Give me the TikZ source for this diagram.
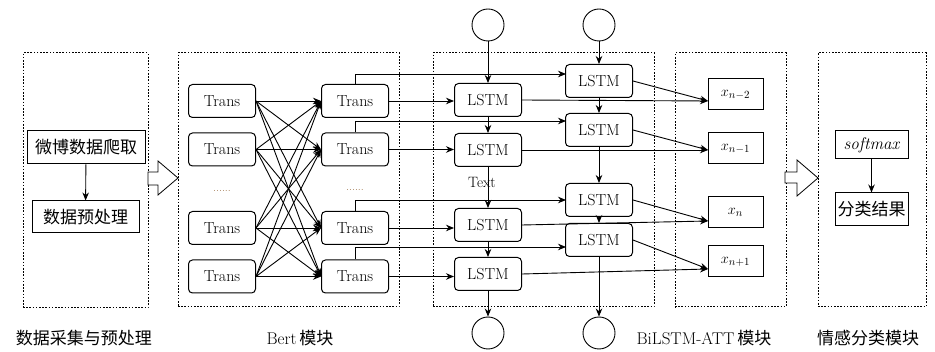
\documentclass[tikz,border=0pt]{standalone}
\usepackage{fontspec}
\newfontfamily\cjk{Noto Sans CJK SC}
\usetikzlibrary{arrows.meta,calc}
\begin{document}
\begin{tikzpicture}[x=1pt,y=-1pt,
  >={Stealth[length=8pt,width=6.5pt]},
  every node/.style={inner sep=0pt},
  dotbox/.style={draw,line width=1pt,dash pattern=on 1.6pt off 1.6pt},
  rbox/.style={draw,line width=1pt,rounded corners=4pt,minimum width=67pt,minimum height=33pt,font=\fontsize{16}{18}\selectfont},
  abox/.style={draw,line width=1pt,minimum width=55pt,minimum height=31pt,font=\fontsize{15}{17}\selectfont},
  cbox/.style={draw,line width=1pt,font=\cjk\fontsize{17}{20}\selectfont,inner sep=1pt},
  circ/.style={draw,line width=0.9pt,circle,minimum size=32pt},
  conn/.style={line width=0.9pt},
  blk/.style={draw,line width=0.8pt,fill=white},
  lab/.style={font=\cjk\fontsize{17}{20}\selectfont},
  dots/.style={text=brown!60!gray,font=\fontsize{11}{12}\selectfont}
]
\useasboundingbox (0,0) rectangle (935,352);
% dotted module boxes
\node[dotbox,minimum width=125pt,minimum height=255pt] (m1) at (85.5,180.5) {};
\node[dotbox,minimum width=221pt,minimum height=254pt] (m2) at (288.5,180) {};
\node[dotbox,minimum width=221pt,minimum height=254pt] (m3) at (543.5,180) {};
\node[dotbox,minimum width=111pt,minimum height=254pt] (m4) at (730.5,180) {};
\node[dotbox,minimum width=108pt,minimum height=254pt] (m5) at (872,180) {};

% module 1
\node[cbox,minimum width=118pt,minimum height=33pt] (crawl) at (86,147.5) {微博数据爬取};
\node[cbox,minimum width=107pt,minimum height=32pt] (pre) at (85.5,217) {数据预处理};
\draw[conn,->] (crawl) -- (pre);

% block arrows
\draw[blk] (148,172) -- (158,172) -- (158,161) -- (178,178) -- (158,195) -- (158,185) -- (148,185) -- cycle;
\draw[blk] (785,172) -- (797,172) -- (797,160) -- (818,178) -- (797,196) -- (797,183) -- (785,183) -- cycle;

% Bert
\node[rbox] (t1) at (222,101) {Trans};
\node[rbox] (t2) at (222,149.5) {Trans};
\node[rbox] (t3) at (222,228) {Trans};
\node[rbox] (t4) at (222,276.5) {Trans};
\node[rbox] (u1) at (355,101) {Trans};
\node[rbox] (u2) at (355,149.5) {Trans};
\node[rbox] (u3) at (355,228) {Trans};
\node[rbox] (u4) at (355,276.5) {Trans};
\node[dots] (d1) at (222,191) {......};
\node[dots] (d2) at (355,190) {......};
\foreach \i in {1,2,3,4}{
  \foreach \j in {1,2,3,4}{
    \draw[conn,->] (t\i.east) -- (u\j.west);
  }
}

% BiLSTM
\node[rbox] (l1) at (488,100) {LSTM};
\node[rbox] (l2) at (488,150) {LSTM};
\node[rbox] (l3) at (488,225) {LSTM};
\node[rbox] (l4) at (488,274) {LSTM};
\node[rbox] (r1) at (599,81) {LSTM};
\node[rbox] (r2) at (599,130) {LSTM};
\node[rbox] (r3) at (599,200) {LSTM};
\node[rbox] (r4) at (599,240) {LSTM};
\node[circ] (lt) at (488,25) {};
\node[circ] (lb) at (488,333) {};
\node[circ] (rt) at (599,25) {};
\node[circ] (rb) at (599,333) {};
\draw[conn,->] (lt) -- (l1);
\draw[conn,->] (l1) -- (l2);
\draw[conn,->] (l2) -- (l3);
\draw[conn,->] (l3) -- (l4);
\draw[conn,->] (l4) -- (lb);
\draw[conn,->] (rt) -- (r1);
\draw[conn,->] (r1) -- (r2);
\draw[conn,->] (r2) -- (r3);
\draw[conn,->] (r3) -- (r4);
\draw[conn,->] (r4) -- (rb);
\node[font=\fontsize{15}{17}\selectfont] (txt) at (482,182) {Text};

% Trans -> LSTM
\foreach \i in {1,2,3,4}{
  \draw[conn,->] (u\i.east) -- (l\i.west |- u\i.east);
}
\coordinate (c1) at (566,74);
\coordinate (c2) at (566,121);
\coordinate (c3) at (566,200);
\coordinate (c4) at (566,247);
\foreach \i in {1,2,3,4}{
  \draw[conn,->] (u\i.north) |- (c\i);
}

% ATT
\node[abox] (a1) at (735.5,94.5) {$x_{n-2}$};
\node[abox] (a2) at (735.5,148.5) {$x_{n-1}$};
\node[abox] (a3) at (735.5,212.5) {$x_{n}$};
\node[abox] (a4) at (735.5,261.5) {$x_{n+1}$};
\coordinate (p1) at (708,101);
\coordinate (p2) at (708,150);
\coordinate (p3) at (708,221);
\coordinate (p4) at (708,269);
\foreach \i in {1,2,3,4}{
  \draw[conn,->] (l\i.east) -- (p\i);
  \draw[conn,->] (r\i.east) -- (p\i);
}

% module 5
\node[draw,line width=1pt,minimum width=73pt,minimum height=28pt,font=\fontsize{17}{19}\selectfont\itshape] (sm) at (871.5,145) {softmax};
\node[cbox,minimum width=73pt,minimum height=33pt] (res) at (871.5,209.5) {分类结果};
\draw[conn,->] (sm) -- (res);

% labels
\node[lab] (L1) at (84,338) {数据采集与预处理};
\node[lab] (L2) at (300,338) {{\rmfamily Bert}\,模块};
\node[lab] (L3) at (704,338) {{\rmfamily BiLSTM-ATT}\,模块};
\node[lab] (L4) at (868,338) {情感分类模块};
\end{tikzpicture}
\end{document}
